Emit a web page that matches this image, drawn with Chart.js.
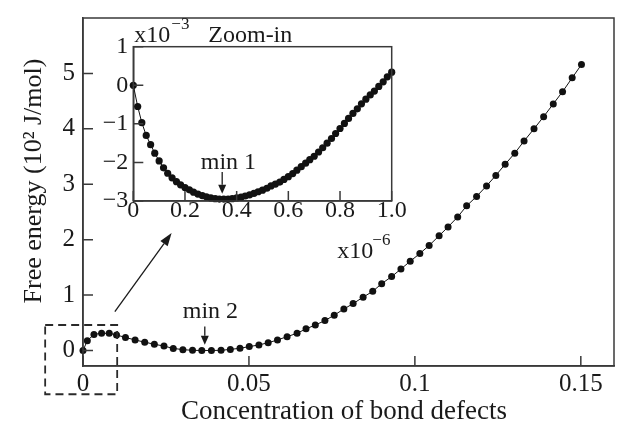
<!DOCTYPE html>
<html>
<head>
<meta charset="utf-8">
<script src="https://cdn.jsdelivr.net/npm/chart.js@4.4.0/dist/chart.umd.min.js"></script>
<style>
  html, body { margin: 0; padding: 0; background: #fff; }
  #wrap { position: relative; width: 619px; height: 430px; }
  canvas { position: absolute; left: 0; top: 0; }
</style>
</head>
<body>
<div id="wrap">
  <canvas id="main" width="619" height="430"></canvas>
  <canvas id="inset" width="619" height="430"></canvas>
</div>
<script>
// main curve: concentration of bond defects vs free energy (10^2 J/mol)
let concentration = [0, 0.0013, 0.0033, 0.0056, 0.0079, 0.0101, 0.0128, 0.0157, 0.0186, 0.0215,
	0.0244, 0.0272, 0.0301, 0.033, 0.0358, 0.0387, 0.0416, 0.0444, 0.0473, 0.0501,
	0.053, 0.0558, 0.0586, 0.0615, 0.0645, 0.0672, 0.07, 0.0729, 0.0757, 0.0786,
	0.0814, 0.0844, 0.0873, 0.090, 0.093, 0.0958, 0.0986, 0.1015, 0.1043, 0.1073,
	0.110, 0.1129, 0.1156, 0.1186, 0.1216, 0.1244, 0.1272, 0.1301, 0.1329, 0.1359,
	0.1388, 0.1417, 0.1445, 0.1474, 0.1502]
let freeEnergy = [0, 0.177, 0.29, 0.31, 0.31, 0.28, 0.235, 0.19, 0.15, 0.113,
	0.079, 0.038, 0.015, 0.003, 0, 0, 0.003, 0.02, 0.04, 0.07,
	0.1, 0.14, 0.19, 0.25, 0.31, 0.39, 0.46, 0.539, 0.638, 0.748,
	0.846, 0.962, 1.067, 1.206, 1.333, 1.47, 1.61, 1.75, 1.895, 2.07,
	2.23, 2.41, 2.61, 2.78, 2.97, 3.16, 3.36, 3.56, 3.78, 4.0,
	4.22, 4.45, 4.67, 4.92, 5.16]
let xTicks = [0, 0.05, 0.1, 0.15]
let xTickLabels = ['0', '0.05', '0.1', '0.15']
let yTicks = [0, 1, 2, 3, 4, 5]
let yTickLabels = ['0', '1', '2', '3', '4', '5']

// zoom-in: x in units of 1e-6, y in units of 1e-3
let zoomX = [0, 0.017, 0.033, 0.05, 0.067, 0.083, 0.1, 0.117, 0.133, 0.15,
	0.167, 0.183, 0.2, 0.217, 0.233, 0.25, 0.267, 0.283, 0.3, 0.317,
	0.333, 0.35, 0.367, 0.383, 0.4, 0.417, 0.433, 0.45, 0.467, 0.483,
	0.5, 0.517, 0.533, 0.55, 0.567, 0.583, 0.6, 0.617, 0.633, 0.65,
	0.667, 0.683, 0.7, 0.717, 0.733, 0.75, 0.767, 0.783, 0.8, 0.817,
	0.833, 0.85, 0.867, 0.883, 0.9, 0.917, 0.933, 0.95, 0.967, 0.983, 1.0]
let zoomY = [0, -0.55, -0.97, -1.30, -1.54, -1.76, -1.96, -2.14, -2.28, -2.40,
	-2.50, -2.58, -2.65, -2.71, -2.77, -2.82, -2.86, -2.89, -2.92, -2.94,
	-2.95, -2.95, -2.95, -2.94, -2.92, -2.90, -2.87, -2.84, -2.80, -2.76,
	-2.72, -2.67, -2.61, -2.56, -2.51, -2.44, -2.37, -2.29, -2.20, -2.11,
	-2.02, -1.93, -1.84, -1.73, -1.62, -1.50, -1.38, -1.25, -1.12, -0.99,
	-0.86, -0.73, -0.61, -0.48, -0.36, -0.25, -0.15, -0.03, 0.09, 0.22, 0.34]
let zoomXTicks = [0, 0.2, 0.4, 0.6, 0.8, 1.0]
let zoomXTickLabels = ['0', '0.2', '0.4', '0.6', '0.8', '1.0']
let zoomYTicks = [-3, -2, -1, 0, 1]
let zoomYTickLabels = ['\u22123', '\u22122', '\u22121', '0', '1']

let serif = "'Liberation Serif', 'Times New Roman', serif"
let ink = '#1a1a1a'
let frameColor = '#3a3a3a'

function arrow(ctx, x1, y1, x2, y2, head, w) {
	let a = Math.atan2(y2 - y1, x2 - x1)
	let bx = x2 - head * Math.cos(a), by = y2 - head * Math.sin(a)
	ctx.beginPath(); ctx.moveTo(x1, y1); ctx.lineTo(bx, by); ctx.stroke()
	ctx.beginPath()
	ctx.moveTo(x2, y2)
	ctx.lineTo(bx + w / 2 * Math.sin(a), by - w / 2 * Math.cos(a))
	ctx.lineTo(bx - w / 2 * Math.sin(a), by + w / 2 * Math.cos(a))
	ctx.closePath(); ctx.fill()
}

//frame + inward ticks, shared by both charts
function frameAndTicks(chart) {
	let ctx = chart.ctx, a = chart.chartArea
	let xs = chart.scales.x, ys = chart.scales.y
	ctx.save()
	ctx.strokeStyle = frameColor
	ctx.lineWidth = 1.5
	ctx.strokeRect(a.left, a.top, a.right - a.left, a.bottom - a.top)
	ctx.beginPath()
	xs.ticks.forEach(t => {
		let px = xs.getPixelForValue(t.value)
		ctx.moveTo(px, a.bottom); ctx.lineTo(px, a.bottom - 10)
	})
	ys.ticks.forEach(t => {
		let py = ys.getPixelForValue(t.value)
		ctx.moveTo(a.left, py); ctx.lineTo(a.left + 10, py)
	})
	ctx.stroke()
	ctx.restore()
}

let mainDeco = {
	id: 'mainDeco',
	afterDraw(chart) {
		frameAndTicks(chart)
		let ctx = chart.ctx
		let xs = chart.scales.x, ys = chart.scales.y
		ctx.save()
		//axis titles
		ctx.fillStyle = ink
		ctx.textAlign = 'center'; ctx.textBaseline = 'middle'
		ctx.font = '27px ' + serif
		ctx.fillText('Concentration of bond defects', 344, 412)
		ctx.save()
		ctx.translate(34, 181)
		ctx.rotate(-Math.PI / 2)
		ctx.font = '26px ' + serif
		ctx.fillText('Free energy (10\u00b2 J/mol)', 0, 0)
		ctx.restore()
		//dashed box round the origin
		ctx.strokeStyle = '#2a2a2a'
		ctx.lineWidth = 1.8
		ctx.setLineDash([8, 5])
		let l = xs.getPixelForValue(-0.0114), r = xs.getPixelForValue(0.0103)
		let t = ys.getPixelForValue(0.46), b = ys.getPixelForValue(-0.79)
		ctx.strokeRect(l, t, r - l, b - t)
		ctx.setLineDash([])
		//arrow to the inset
		ctx.strokeStyle = ink; ctx.lineWidth = 1.3
		arrow(ctx, xs.getPixelForValue(0.0096), ys.getPixelForValue(0.70),
			xs.getPixelForValue(0.0267), ys.getPixelForValue(2.12), 13, 9)
		//min 2
		arrow(ctx, xs.getPixelForValue(0.0367), ys.getPixelForValue(0.435),
			xs.getPixelForValue(0.0367), ys.getPixelForValue(0.104), 9, 8)
		ctx.font = '24px ' + serif
		ctx.textBaseline = 'alphabetic'
		ctx.fillText('min 2', xs.getPixelForValue(0.0384), ys.getPixelForValue(0.59))
		ctx.restore()
	}
}

let insetDeco = {
	id: 'insetDeco',
	afterDraw(chart) {
		frameAndTicks(chart)
		let ctx = chart.ctx, a = chart.chartArea
		let xs = chart.scales.x, ys = chart.scales.y
		ctx.save()
		ctx.fillStyle = ink; ctx.strokeStyle = ink; ctx.lineWidth = 1.3
		ctx.textBaseline = 'alphabetic'
		//exponent labels and title
		ctx.textAlign = 'left'
		ctx.font = '24px ' + serif
		ctx.fillText('x10', a.left + 1, a.top - 5)
		ctx.fillText('Zoom-in', a.left + 75, a.top - 5)
		ctx.fillText('x10', a.left + 204, a.bottom + 57)
		ctx.font = '17px ' + serif
		ctx.fillText('\u22123', a.left + 38, a.top - 18)
		ctx.fillText('\u22126', a.left + 239, a.bottom + 44)
		//min 1
		arrow(ctx, xs.getPixelForValue(0.344), ys.getPixelForValue(-2.25),
			xs.getPixelForValue(0.344), ys.getPixelForValue(-2.81), 9, 8)
		ctx.font = '24px ' + serif
		ctx.textAlign = 'center'
		ctx.fillText('min 1', xs.getPixelForValue(0.368), ys.getPixelForValue(-2.16))
		ctx.restore()
	}
}

function axisOpts(min, max, tickVals, tickLabels, size, pad, fit) {
	return {
		type: 'linear', min: min, max: max,
		afterBuildTicks: s => { s.ticks = tickVals.map(v => ({ value: v })) },
		afterFit: fit,
		grid: { display: true, drawOnChartArea: false, drawTicks: false },
		border: { display: true, color: frameColor, width: 1.5 },
		ticks: {
			autoSkip: false, maxRotation: 0, padding: pad, color: ink,
			font: { family: serif, size: size, lineHeight: 0.8 },
			callback: (v, i) => tickLabels[i]
		}
	}
}

function draw() {
	new Chart('main', {
		type: 'scatter',
		data: {
			datasets: [{
				data: concentration.map((x, i) => ({ x: x, y: freeEnergy[i] })),
				showLine: true,
				borderColor: '#111', borderWidth: 1,
				pointRadius: 3.5, pointBackgroundColor: '#111', pointBorderWidth: 0,
				clip: false
			}]
		},
		options: {
			responsive: false, animation: false, events: [],
			layout: { padding: { left: 0, top: 5, right: 5, bottom: 0 } },
			plugins: { legend: { display: false }, tooltip: { enabled: false } },
			scales: {
				x: axisOpts(0, 0.16, xTicks, xTickLabels, 25, 8, s => { s.height = 64 }),
				y: axisOpts(-0.28, 6, yTicks, yTickLabels, 25, 8, s => { s.width = 83 })
			}
		},
		plugins: [mainDeco]
	})

	new Chart('inset', {
		type: 'scatter',
		data: {
			datasets: [{
				data: zoomX.map((x, i) => ({ x: x, y: zoomY[i] })),
				showLine: true,
				borderColor: '#111', borderWidth: 1,
				pointRadius: 3.6, pointBackgroundColor: '#111', pointBorderWidth: 0,
				clip: false
			}]
		},
		options: {
			responsive: false, animation: false, events: [],
			layout: { padding: { left: 0, top: 46.7, right: 227.3, bottom: 0 } },
			plugins: { legend: { display: false }, tooltip: { enabled: false } },
			scales: {
				x: axisOpts(0, 1, zoomXTicks, zoomXTickLabels, 24, 0, s => { s.height = 229 }),
				y: axisOpts(-3, 1, zoomYTicks, zoomYTickLabels, 24, 5, s => { s.width = 133.3 })
			}
		},
		plugins: [insetDeco]
	})
}

document.fonts.load("24px 'Liberation Serif'").then(draw, draw)
</script>
</body>
</html>
